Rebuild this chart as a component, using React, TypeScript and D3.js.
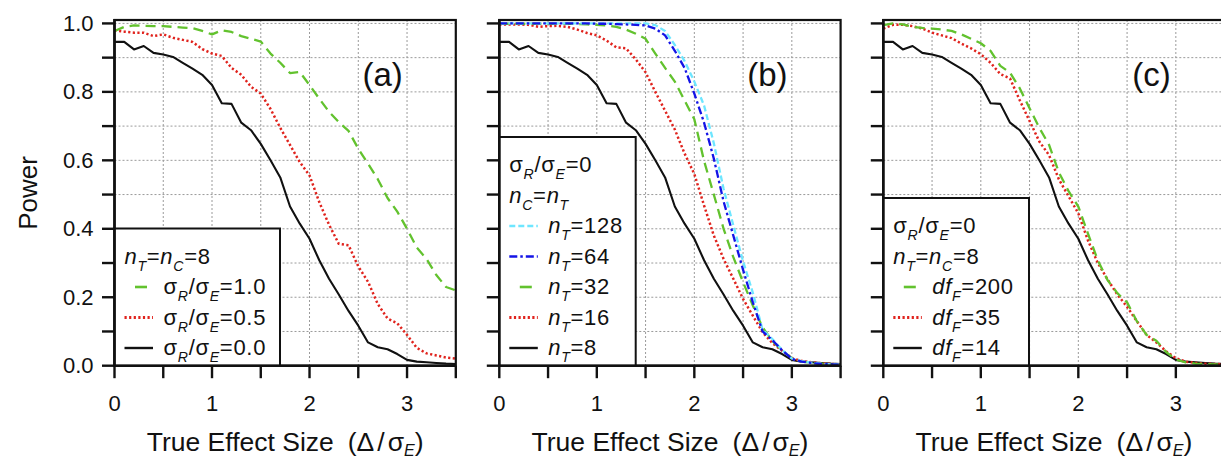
import React from 'react';
import * as d3 from 'd3';

// ---------- data ----------
const effectSize = [0, 0.1, 0.2, 0.3, 0.4, 0.5, 0.6, 0.7, 0.8, 0.9, 1.0, 1.1, 1.2, 1.3, 1.4, 1.5, 1.6, 1.7, 1.8, 1.9, 2.0, 2.1, 2.2, 2.3, 2.4, 2.5, 2.6, 2.7, 2.8, 2.9, 3.0, 3.1, 3.2, 3.3, 3.4, 3.5];

// baseline curve: nT = nC = 8, sigmaR/sigmaE = 0, dfF = 14 (shared by all panels)
const powerBase = [0.946, 0.946, 0.924, 0.934, 0.914, 0.909, 0.902, 0.885, 0.868, 0.850, 0.820, 0.767, 0.765, 0.710, 0.688, 0.648, 0.600, 0.550, 0.465, 0.415, 0.371, 0.308, 0.254, 0.208, 0.160, 0.117, 0.068, 0.054, 0.048, 0.034, 0.017, 0.012, 0.010, 0.008, 0.006, 0.005];

// panel (a)
const powerSigma05 = [0.980, 0.976, 0.973, 0.973, 0.963, 0.968, 0.958, 0.952, 0.946, 0.925, 0.912, 0.905, 0.870, 0.850, 0.815, 0.795, 0.750, 0.695, 0.645, 0.595, 0.556, 0.478, 0.412, 0.356, 0.352, 0.290, 0.245, 0.180, 0.138, 0.124, 0.090, 0.052, 0.036, 0.030, 0.024, 0.021];
const powerSigma10 = [0.978, 0.990, 0.994, 0.993, 0.992, 0.992, 0.990, 0.988, 0.986, 0.978, 0.968, 0.980, 0.975, 0.963, 0.955, 0.947, 0.912, 0.885, 0.855, 0.858, 0.820, 0.780, 0.742, 0.712, 0.686, 0.634, 0.590, 0.545, 0.490, 0.450, 0.400, 0.345, 0.312, 0.265, 0.230, 0.220];

// panel (b)
const powerN16 = [0.997, 0.997, 0.997, 0.996, 0.990, 0.992, 0.993, 0.990, 0.982, 0.972, 0.965, 0.950, 0.930, 0.927, 0.895, 0.857, 0.800, 0.745, 0.690, 0.620, 0.560, 0.468, 0.380, 0.312, 0.254, 0.195, 0.146, 0.098, 0.066, 0.044, 0.022, 0.014, 0.010, 0.007, 0.005, 0.004];
const powerN32 = [0.999, 0.999, 0.999, 0.999, 0.999, 0.999, 0.999, 0.999, 0.998, 0.997, 0.996, 0.994, 0.990, 0.982, 0.970, 0.955, 0.912, 0.870, 0.830, 0.775, 0.720, 0.598, 0.500, 0.400, 0.317, 0.244, 0.176, 0.112, 0.072, 0.045, 0.022, 0.012, 0.008, 0.006, 0.004, 0.003];
const powerN64 = [1.0, 1.0, 1.0, 1.0, 1.0, 1.0, 1.0, 1.0, 1.0, 1.0, 0.999, 0.999, 0.998, 0.997, 0.996, 0.994, 0.985, 0.965, 0.920, 0.870, 0.795, 0.710, 0.605, 0.480, 0.380, 0.280, 0.185, 0.100, 0.075, 0.045, 0.020, 0.012, 0.008, 0.005, 0.004, 0.003];
const powerN128 = [1.0, 1.0, 1.0, 1.0, 1.0, 1.0, 1.0, 1.0, 1.0, 1.0, 1.0, 1.0, 1.0, 1.0, 1.0, 1.0, 0.995, 0.978, 0.937, 0.890, 0.830, 0.760, 0.650, 0.517, 0.410, 0.305, 0.213, 0.105, 0.078, 0.046, 0.021, 0.013, 0.009, 0.006, 0.004, 0.003];

// panel (c)
const powerDf35 = [0.985, 0.996, 0.996, 0.992, 0.985, 0.973, 0.965, 0.957, 0.941, 0.927, 0.910, 0.885, 0.852, 0.839, 0.775, 0.715, 0.655, 0.615, 0.545, 0.495, 0.445, 0.365, 0.300, 0.252, 0.208, 0.172, 0.130, 0.090, 0.068, 0.042, 0.022, 0.012, 0.008, 0.006, 0.005, 0.004];
const powerDf200 = [0.995, 1.0, 0.997, 0.990, 0.987, 0.985, 0.982, 0.978, 0.968, 0.955, 0.942, 0.920, 0.876, 0.856, 0.810, 0.752, 0.695, 0.645, 0.565, 0.510, 0.465, 0.385, 0.308, 0.250, 0.212, 0.185, 0.130, 0.090, 0.073, 0.040, 0.018, 0.010, 0.006, 0.005, 0.004, 0.003];

const xTickLabels = ['0', '1', '2', '3'];
const yTickLabels = ['0.0', '0.2', '0.4', '0.6', '0.8', '1.0'];
const panelTags = ['(a)', '(b)', '(c)'];

// ---------- styles ----------
type StyleKey = 'black' | 'red' | 'green' | 'blue' | 'cyan';
const STY: Record<StyleKey, { stroke: string; width: number; dash?: string }> = {
  black: { stroke: '#111111', width: 2.1 },
  red: { stroke: '#e0231d', width: 2.5, dash: '2.2 2.4' },
  green: { stroke: '#62c22e', width: 2.3, dash: '10 6' },
  blue: { stroke: '#1414e6', width: 2.3, dash: '8 3 2.5 3' },
  cyan: { stroke: '#6ee6ff', width: 2.3, dash: '6 3' },
};

type Part = { t: string; sub?: boolean; it?: boolean };
const sig = (v: string): Part[] => [{ t: 'σ' }, { t: 'R', sub: true, it: true }, { t: '/σ' }, { t: 'E', sub: true, it: true }, { t: '=' + v }];
const nT = (v: string): Part[] => [{ t: 'n', it: true }, { t: 'T', sub: true, it: true }, { t: '=' + v }];
const dfF = (v: string): Part[] => [{ t: 'df', it: true }, { t: 'F', sub: true, it: true }, { t: '=' + v }];
const nTnC8: Part[] = [{ t: 'n', it: true }, { t: 'T', sub: true, it: true }, { t: '=' }, { t: 'n', it: true }, { t: 'C', sub: true, it: true }, { t: '=8' }];
const nCnT: Part[] = [{ t: 'n', it: true }, { t: 'C', sub: true, it: true }, { t: '=' }, { t: 'n', it: true }, { t: 'T', sub: true, it: true }];

interface Series { values: number[]; style: StyleKey; label: Part[] }
interface Panel { series: Series[]; header: Part[][]; legendWidth: number }

const panels: Panel[] = [
  {
    series: [
      { values: powerBase, style: 'black', label: sig('0.0') },
      { values: powerSigma05, style: 'red', label: sig('0.5') },
      { values: powerSigma10, style: 'green', label: sig('1.0') },
    ],
    header: [nTnC8],
    legendWidth: 165.5,
  },
  {
    series: [
      { values: powerBase, style: 'black', label: nT('8') },
      { values: powerN16, style: 'red', label: nT('16') },
      { values: powerN32, style: 'green', label: nT('32') },
      { values: powerN128, style: 'cyan', label: nT('128') },
      { values: powerN64, style: 'blue', label: nT('64') },
    ],
    header: [sig('0'), nCnT],
    legendWidth: 136.4,
  },
  {
    series: [
      { values: powerBase, style: 'black', label: dfF('14') },
      { values: powerDf35, style: 'red', label: dfF('35') },
      { values: powerDf200, style: 'green', label: dfF('200') },
    ],
    header: [sig('0'), nTnC8],
    legendWidth: 145.7,
  },
];
// legend order (top to bottom) for each panel
const legendOrder: StyleKey[][] = [
  ['green', 'red', 'black'],
  ['cyan', 'blue', 'green', 'red', 'black'],
  ['green', 'red', 'black'],
];

// ---------- layout ----------
const W = 1221;
const H = 458;
const PANEL_LEFTS = [114.5, 499.3, 883.3];
const PANEL_W = 341.3;
const TOP = 20;
const BOTTOM = 365.7;
const FONT = "'Liberation Sans', Arial, Helvetica, sans-serif";

function Rich({ parts, x, y, size }: { parts: Part[]; x: number; y: number; size: number }) {
  let shifted = false;
  const shift = size * 0.32;
  const kids = parts.map((p, i) => {
    let dy = 0;
    if (p.sub && !shifted) { dy = shift; shifted = true; }
    else if (!p.sub && shifted) { dy = -shift; shifted = false; }
    return (
      <tspan key={i} dy={dy || undefined} fontSize={p.sub ? size * 0.64 : size} fontStyle={p.it ? 'italic' : 'normal'}>
        {p.t}
      </tspan>
    );
  });
  return (
    <text x={x} y={y} fontSize={size} fontFamily={FONT} fill="#111" letterSpacing={0.7}>
      {kids}
    </text>
  );
}

function PanelView({ panel, idx }: { panel: Panel; idx: number }) {
  const left = PANEL_LEFTS[idx];
  const x = d3.scaleLinear().domain([0, 3.5]).range([left, left + PANEL_W]);
  const y = d3.scaleLinear().domain([0, 1.01]).range([BOTTOM, TOP]);
  const xGrid = d3.range(0, 3.51, 0.5);
  const yGrid = d3.range(0, 11).map((i) => i / 10);
  const line = d3.line<number>().x((_, i) => x(effectSize[i])).y((d) => y(d));
  const clipId = `clip-${idx}`;

  const legendRows = panel.header.length + panel.series.length;
  const rowY = (k: number) => 355 - 30.5 * (legendRows - 1 - k);
  const legTop = rowY(0) - 35;

  const ordered = legendOrder[idx].map((s) => panel.series.find((se) => se.style === s)!);

  return (
    <g>
      <defs>
        <clipPath id={clipId}>
          <rect x={left} y={TOP} width={PANEL_W} height={BOTTOM - TOP} />
        </clipPath>
      </defs>
      {/* grid */}
      {xGrid.filter((v) => v > 0 && v < 3.5).map((v) => (
        <line key={'gx' + v} x1={x(v)} x2={x(v)} y1={TOP} y2={BOTTOM} stroke="#9a9a9a" strokeWidth={1} strokeDasharray="2 2" />
      ))}
      {yGrid.filter((v) => v > 0).map((v) => (
        <line key={'gy' + v} x1={left} x2={left + PANEL_W} y1={y(v)} y2={y(v)} stroke="#9a9a9a" strokeWidth={1} strokeDasharray="2 2" />
      ))}
      {/* curves */}
      <g clipPath={`url(#${clipId})`}>
        {panel.series.map((s, i) => (
          <path key={i} d={line(s.values) || ''} fill="none" stroke={STY[s.style].stroke} strokeWidth={STY[s.style].width}
            strokeDasharray={STY[s.style].dash} strokeLinejoin="round" />
        ))}
      </g>
      {/* frame */}
      <rect x={left} y={TOP} width={PANEL_W} height={BOTTOM - TOP} fill="none" stroke="#111" strokeWidth={2.2} />
      {/* legend */}
      <rect x={left} y={legTop} width={panel.legendWidth} height={BOTTOM - legTop} fill="#fff" stroke="#111" strokeWidth={2} />
      {panel.header.map((h, k) => (
        <Rich key={'h' + k} parts={h} x={left + 10} y={rowY(k)} size={22} />
      ))}
      {ordered.map((s, k) => {
        const ry = rowY(panel.header.length + k);
        const st = STY[s.style];
        const ly = ry - 7;
        const x1 = s.style === 'green' ? left + 20.5 : left + 10;
        const x2 = s.style === 'green' ? left + 32.5 : left + 38.5;
        return (
          <g key={'l' + k}>
            <line x1={x1} x2={x2} y1={ly} y2={ly} stroke={st.stroke} strokeWidth={st.width + 0.3}
              strokeDasharray={s.style === 'green' ? undefined : st.dash} />
            <Rich parts={s.label} x={left + 49} y={ry} size={22} />
          </g>
        );
      })}
      {/* axes */}
      <line x1={left} x2={left} y1={TOP - 1} y2={BOTTOM + 1} stroke="#111" strokeWidth={2.6} />
      <line x1={left - 1} x2={left + PANEL_W} y1={BOTTOM} y2={BOTTOM} stroke="#111" strokeWidth={2.6} />
      {yGrid.map((v) => (
        <line key={'ty' + v} x1={left - 12.5} x2={left} y1={y(v)} y2={y(v)} stroke="#111" strokeWidth={2.4} />
      ))}
      {xGrid.map((v) => (
        <line key={'tx' + v} x1={x(v)} x2={x(v)} y1={BOTTOM} y2={BOTTOM + 12.5} stroke="#111" strokeWidth={2.4} />
      ))}
      {xTickLabels.map((t) => (
        <text key={'xl' + t} x={x(+t)} y={410.5} textAnchor="middle" fontSize={22} fontFamily={FONT} fill="#111">{t}</text>
      ))}
      {idx === 0 && yTickLabels.map((t) => (
        <text key={'yl' + t} x={93.5} y={y(+t) + 7.6} textAnchor="end" fontSize={22} fontFamily={FONT} fill="#111">{t}</text>
      ))}
      {/* panel tag */}
      <text x={x(2.75)} y={86} textAnchor="middle" fontSize={33} fontFamily={FONT} fill="#111">{panelTags[idx]}</text>
      {/* axis title */}
      <text x={left + PANEL_W / 2} y={451} textAnchor="middle" fontSize={26.5} fontFamily={FONT} fill="#111">
        <tspan>True Effect Size</tspan>
        <tspan dx={14}>(Δ</tspan>
        <tspan dx={3}>/</tspan>
        <tspan dx={3}>σ</tspan>
        <tspan dy={5} fontSize={16} fontStyle="italic">E</tspan>
        <tspan dy={-5}>)</tspan>
      </text>
    </g>
  );
}

export default function App() {
  return (
    <svg width={W} height={H} viewBox={`0 0 ${W} ${H}`} style={{ position: 'absolute', left: 0, top: 0, background: '#fff' }}>
      <rect x={0} y={0} width={W} height={H} fill="#fff" />
      {panels.map((p, i) => (
        <PanelView key={i} panel={p} idx={i} />
      ))}
      <text transform="translate(37,193) rotate(-90)" textAnchor="middle" fontSize={26} fontFamily={FONT} fill="#111">Power</text>
    </svg>
  );
}
